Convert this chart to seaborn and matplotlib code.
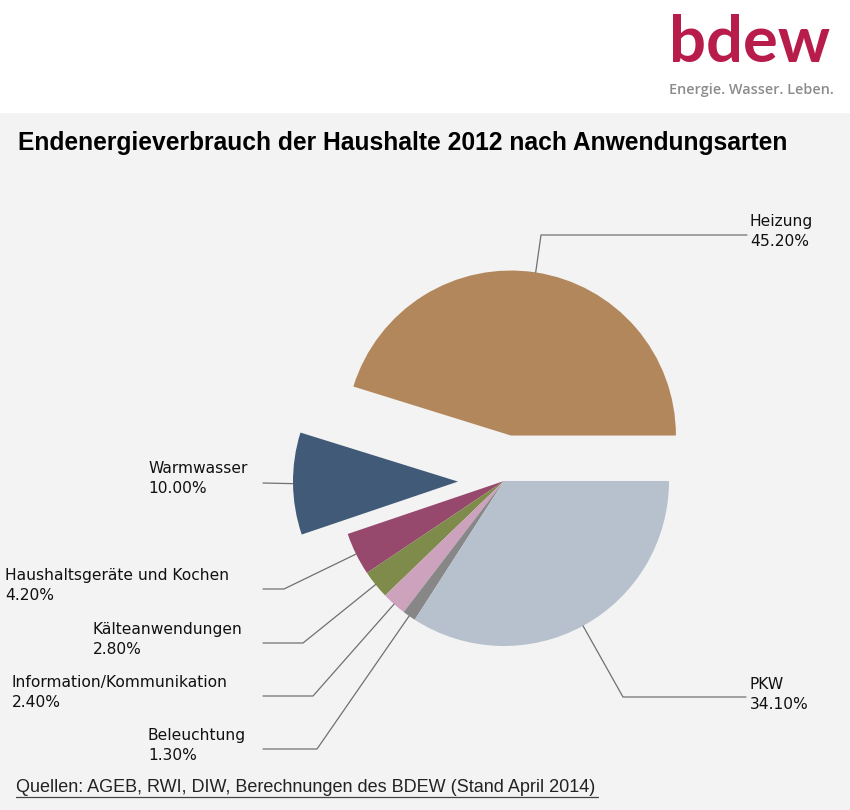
#!/usr/bin/env python3
# -*- coding: utf-8 -*-
"""
Endenergieverbrauch der Haushalte 2012 nach Anwendungsarten (BDEW-Grafik)
Tortendiagramm mit herausgezogenen Segmenten und Führungslinien.
"""

import numpy as np
import matplotlib.pyplot as plt
import seaborn as sns

# Daten
kategorien = ['Heizung', 'Warmwasser', 'Haushaltsgeräte und Kochen',
              'Kälteanwendungen', 'Information/Kommunikation',
              'Beleuchtung', 'PKW']
anteile = [45.2, 10.0, 4.2, 2.8, 2.4, 1.3, 34.1]
farben = ['#B3875C', '#415A78', '#97486D', '#7F8B4A', '#CDA2BD',
          '#878787', '#B7C1CD']

# Layout in Pixeln (y nach oben), Figur 850x810
W, H = 850, 810
BG = '#F3F3F3'
ZENTRUM = (504, H - 481)
RADIUS = 165
# matplotlib verschiebt um absolute Einheiten (hier Pixel)
herausgezogen = [46, 46, 0, 0, 0, 0, 0]

# Beschriftungspositionen (links oben) und Knickpunkte der Linien
label_pos = {
    'Heizung': (750, 214),
    'Warmwasser': (148, 461),
    'Haushaltsgeräte und Kochen': (5, 568),
    'Kälteanwendungen': (93, 622),
    'Information/Kommunikation': (12, 675),
    'Beleuchtung': (148, 728),
    'PKW': (750, 677),
}
linien = {
    'Heizung': [(541, 235), (747, 235)],
    'Warmwasser': [(263, 483)],
    'Haushaltsgeräte und Kochen': [(284, 589), (263, 589)],
    'Kälteanwendungen': [(303, 643), (263, 643)],
    'Information/Kommunikation': [(313, 696), (263, 696)],
    'Beleuchtung': [(317, 749), (263, 749)],
    'PKW': [(623, 697), (746, 697)],
}

sns.set_style('white')
plt.rcParams['font.family'] = ['DejaVu Sans']

fig = plt.figure(figsize=(W / 100, H / 100), dpi=100, facecolor=BG)
ax = fig.add_axes([0, 0, 1, 1])
ax.set_facecolor(BG)

# weißer Kopfbereich
ax.axhspan(H - 112, H, color='white', zorder=0)

palette = sns.color_palette(farben)
wedges, _ = ax.pie(anteile, colors=palette, explode=herausgezogen,
                   startangle=0, counterclock=True, radius=RADIUS,
                   center=ZENTRUM, frame=True,
                   wedgeprops=dict(linewidth=0))

for w, name, wert in zip(wedges, kategorien, anteile):
    mitte = np.deg2rad((w.theta1 + w.theta2) / 2)
    cx, cy = w.center
    ax0 = cx + w.r * np.cos(mitte)
    ay0 = cy + w.r * np.sin(mitte)
    pts = [(ax0, ay0)] + [(x, H - y) for x, y in linien[name]]
    xs, ys = zip(*pts)
    ax.plot(xs, ys, color='#707070', lw=0.9, zorder=3)
    lx, ly = label_pos[name]
    ax.text(lx, H - ly, f'{name}\n{wert:.2f}%', ha='left', va='top',
            fontsize=11.2, color='#111111', linespacing=1.45)

# Titel
ax.text(18, H - 143, 'Endenergieverbrauch der Haushalte 2012 nach Anwendungsarten',
        ha='left', va='center', fontsize=17.7, fontweight='bold',
        family=['Liberation Sans', 'DejaVu Sans'], color='black')

# Quelle (unterstrichen)
ax.text(16, H - 788, 'Quellen: AGEB, RWI, DIW, Berechnungen des BDEW (Stand April 2014)',
        ha='left', va='center', fontsize=13,
        family=['Liberation Sans', 'DejaVu Sans'], color='#222222')
ax.plot([16, 598], [H - 797, H - 797], color='#444444', lw=0.9)

# Logo
ax.text(669, H - 62, 'bdew', ha='left', va='baseline', fontsize=47,
        fontweight='bold', family=['Lato', 'DejaVu Sans'], color='#B71C4B')
ax.text(669, H - 94, 'Energie. Wasser. Leben.', ha='left', va='baseline',
        fontsize=10.4, fontweight='semibold', family=['Open Sans', 'DejaVu Sans'],
        color='#8C8C8C')

ax.set_xlim(0, W)
ax.set_ylim(0, H)
ax.set_aspect('equal')
ax.axis('off')

fig.savefig('out.png', dpi=100, facecolor=BG)
print('Gespeichert: out.png')
